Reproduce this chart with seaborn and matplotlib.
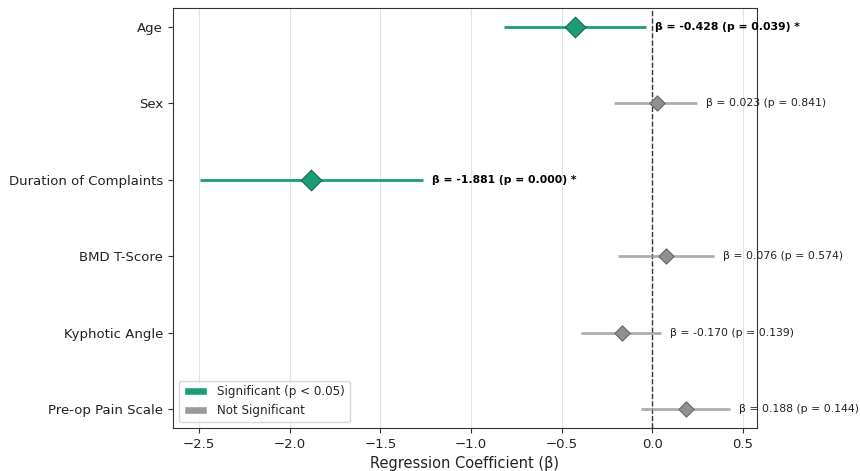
import matplotlib
matplotlib.use("Agg")
import matplotlib.pyplot as plt
import seaborn as sns
import pandas as pd
import numpy as np
from matplotlib.patches import Patch

variables = ["Age", "Sex", "Duration of Complaints", "BMD T-Score", "Kyphotic Angle", "Pre-op Pain Scale"]
betas = [-0.428, 0.023, -1.881, 0.076, -0.170, 0.188]
ci_low = [-0.820, -0.210, -2.496, -0.192, -0.392, -0.063]
ci_high = [-0.036, 0.244, -1.266, 0.342, 0.046, 0.430]
pvalues = [0.039, 0.841, 0.000, 0.574, 0.139, 0.144]

GREEN = "#1b9e77"
GRAY = "#999999"

df = pd.DataFrame({"var": variables, "beta": betas, "lo": ci_low, "hi": ci_high, "p": pvalues})
df["pos"] = np.arange(len(df))

sns.set_style("ticks")
plt.rcParams['font.family'] = ['DejaVu Sans']

fig = plt.figure(figsize=(8.6, 4.71), dpi=100)
ax = fig.add_axes([0.201, 0.091, 0.679, 0.892])

ax.grid(axis="x", color="#dddddd", linewidth=0.8, alpha=0.8)
ax.set_axisbelow(True)

for _, r in df.iterrows():
    sig = r["p"] < 0.05
    col = GREEN if sig else GRAY
    ax.hlines(r["pos"], r["lo"], r["hi"], color=col, linewidth=2.0,
              alpha=1.0 if sig else 0.8, zorder=2)

sig_df = df[df["p"] < 0.05]
ns_df = df[df["p"] >= 0.05]
sns.scatterplot(data=sig_df, x="beta", y="pos", marker="D", s=110, color=GREEN,
                edgecolor="#14654c", linewidth=0.8, ax=ax, zorder=3, legend=False)
sns.scatterplot(data=ns_df, x="beta", y="pos", marker="D", s=60, color="#909090",
                edgecolor="#666666", linewidth=0.8, ax=ax, zorder=3, legend=False)

ax.axvline(0, color="#333333", linestyle="--", linewidth=1.0, zorder=1)

for _, r in df.iterrows():
    sig = r["p"] < 0.05
    txt = f"β = {r['beta']:.3f} (p = {r['p']:.3f})" + (" *" if sig else "")
    ax.text(r["hi"] + 0.05, r["pos"], txt, ha="left", va="center", fontsize=7.8,
            fontweight="bold" if sig else "normal", color="black" if sig else "#222222")

ax.set_yticks(df["pos"])
ax.set_yticklabels(df["var"])
ax.set_ylim(5.25, -0.25)
ax.set_xlim(-2.644, 0.576)
ax.set_xticks([-2.5, -2.0, -1.5, -1.0, -0.5, 0.0, 0.5])
ax.tick_params(axis="y", labelsize=9.5, colors="#333333", labelcolor="#222222")
ax.tick_params(axis="x", labelsize=9.5, colors="#333333", labelcolor="#222222")
ax.set_xlabel("Regression Coefficient (β)", fontsize=10.5, color="#222222")
ax.set_ylabel("")
for s in ax.spines.values():
    s.set_visible(True)
    s.set_color("#333333")

handles = [Patch(facecolor=GREEN, label="Significant (p < 0.05)"),
           Patch(facecolor=GRAY, label="Not Significant")]
ax.legend(handles=handles, loc="lower left", fontsize=8.6, frameon=True)

fig.savefig("out.png", dpi=100)
